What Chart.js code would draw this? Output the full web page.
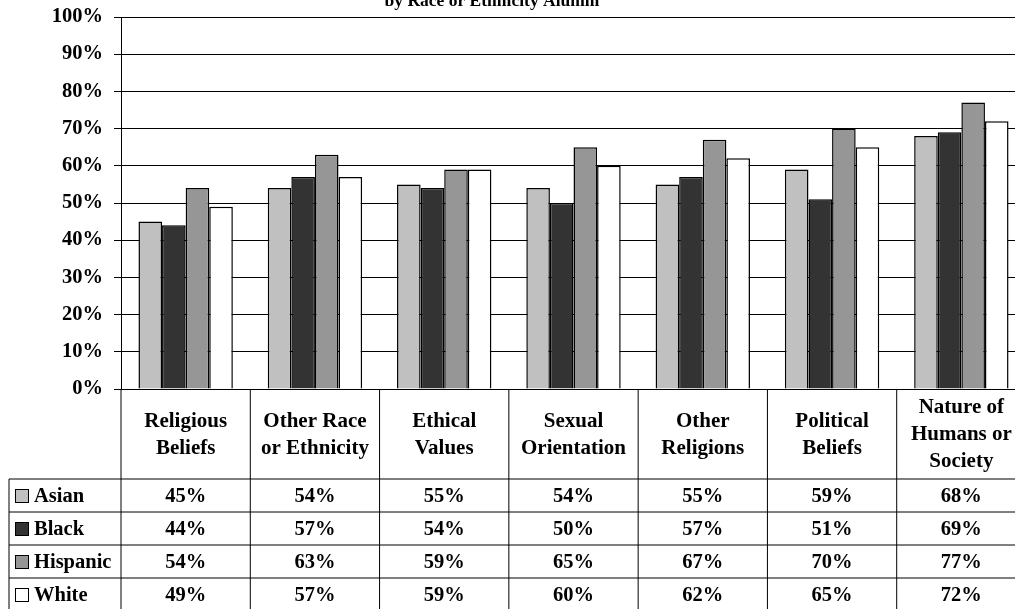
<!DOCTYPE html>
<html lang="en">
<head>
  <meta charset="UTF-8" />
  <title>Alumni by Race or Ethnicity</title>
  <script src="https://cdn.jsdelivr.net/npm/chart.js"></script>
  <style>
    html, body { margin: 0; padding: 0; background: #fff; overflow: hidden; }
    .chart-box { position: absolute; left: 0; top: 0; width: 1026px; height: 612px; }
  </style>
</head>
<body>
  <div class="chart-box"><canvas id="grafico"></canvas></div>

  <script>
    const categories = [
      ['Religious', 'Beliefs'],
      ['Other Race', 'or Ethnicity'],
      ['Ethical', 'Values'],
      ['Sexual', 'Orientation'],
      ['Other', 'Religions'],
      ['Political', 'Beliefs'],
      ['Nature of', 'Humans or', 'Society']
    ];
    const groups = ['Asian', 'Black', 'Hispanic', 'White'];
    const asian    = [45, 54, 55, 54, 55, 59, 68];
    const black    = [44, 57, 54, 50, 57, 51, 69];
    const hispanic = [54, 63, 59, 65, 67, 70, 77];
    const white    = [49, 57, 59, 60, 62, 65, 72];
    const yTicks = [0, 10, 20, 30, 40, 50, 60, 70, 80, 90, 100];

    const fills = ['#c0c0c0', '#333333', '#969696', '#ffffff'];
    const serif = '"Liberation Serif", "Times New Roman", serif';

    // data table under the plot: category headers + one row per group
    const tablePlugin = {
      id: 'dataTable',
      afterDraw(chart) {
        const { ctx, chartArea: area, scales: { x } } = chart;
        const step = (area.right - area.left) / categories.length;
        const headTop = area.bottom;
        const headBottom = headTop + 90;
        const rowH = 33;
        const tableLeft = 9;
        const tableBottom = headBottom + rowH * groups.length;

        ctx.save();
        ctx.strokeStyle = '#000';
        ctx.lineWidth = 1;

        // column lines
        for (let i = 0; i <= categories.length; i++) {
          const cx = x.getPixelForValue(0) - step / 2 + i * step;
          ctx.beginPath();
          ctx.moveTo(cx, headTop);
          ctx.lineTo(cx, tableBottom);
          ctx.stroke();
        }
        ctx.beginPath();
        ctx.moveTo(tableLeft, headBottom);
        ctx.lineTo(tableLeft, tableBottom);
        ctx.stroke();

        // row lines
        for (let r = 0; r <= groups.length; r++) {
          const ry = headBottom + r * rowH;
          ctx.beginPath();
          ctx.moveTo(tableLeft, ry);
          ctx.lineTo(area.right + 10, ry);
          ctx.stroke();
        }

        ctx.fillStyle = '#000';
        ctx.textAlign = 'center';
        ctx.textBaseline = 'middle';

        // category headers
        ctx.font = 'bold 21px ' + serif;
        categories.forEach((lines, i) => {
          const cx = x.getPixelForValue(i);
          const mid = (headTop + headBottom) / 2 + 1;
          lines.forEach((t, k) => {
            ctx.fillText(t, cx, mid + (k - (lines.length - 1) / 2) * 27);
          });
        });

        // values + legend keys
        const series = [asian, black, hispanic, white];
        series.forEach((vals, r) => {
          const cy = headBottom + r * rowH + rowH / 2 + 1;
          ctx.font = 'bold 20.5px ' + serif;
          ctx.textAlign = 'center';
          vals.forEach((v, i) => ctx.fillText(v + '%', x.getPixelForValue(i), cy));

          ctx.fillStyle = fills[r];
          ctx.fillRect(15.5, cy - 7, 13, 13);
          ctx.strokeRect(15.5, cy - 7, 13, 13);
          ctx.fillStyle = '#000';
          ctx.textAlign = 'left';
          ctx.fillText(groups[r], 34, cy);
        });

        // second line of the title (first line sits above the page)
        ctx.font = 'bold 17.5px ' + serif;
        ctx.textAlign = 'center';
        ctx.textBaseline = 'alphabetic';
        ctx.fillText('by Race or Ethnicity Alumni', 492, 6);
        ctx.restore();
      }
    };

    const ctx = document.getElementById('grafico').getContext('2d');
    new Chart(ctx, {
      type: 'bar',
      data: {
        labels: categories,
        datasets: [asian, black, hispanic, white].map((vals, i) => ({
          label: groups[i],
          data: vals,
          backgroundColor: fills[i],
          borderColor: '#000',
          borderWidth: 1.5,
          categoryPercentage: 0.73,
          barPercentage: 1
        }))
      },
      options: {
        responsive: true,
        maintainAspectRatio: false,
        animation: false,
        layout: { padding: { top: 17, bottom: 223, left: 0, right: 0 } },
        plugins: {
          legend: { display: false },
          title: { display: false },
          tooltip: { enabled: false }
        },
        scales: {
          x: { display: false },
          y: {
            min: 0,
            max: 100,
            afterFit(axis) {
              axis.width = 121;
              axis.paddingTop = 0;
              axis.paddingBottom = 0;
            },
            afterBuildTicks(axis) { axis.ticks = yTicks.map(v => ({ value: v })); },
            ticks: {
              callback: v => v + '%',
              color: '#000',
              padding: 11,
              font: { family: serif, size: 20.5, weight: 'bold' }
            },
            grid: { color: '#000', lineWidth: 1, tickLength: 7 },
            border: { color: '#000', width: 1 }
          }
        }
      },
      plugins: [tablePlugin]
    });
  </script>
</body>
</html>
